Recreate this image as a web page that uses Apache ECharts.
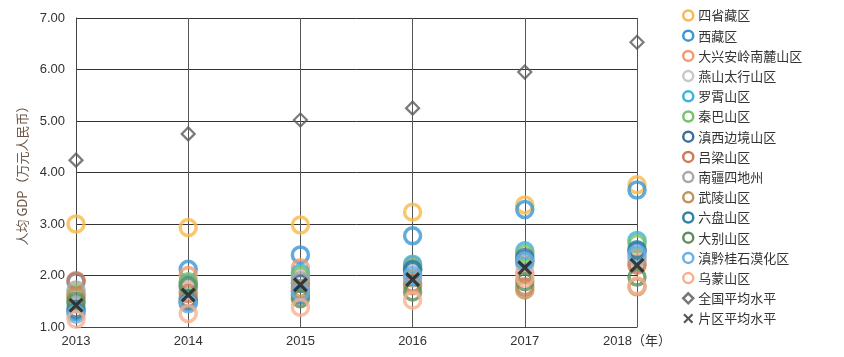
<!DOCTYPE html>
<html><head><meta charset="utf-8">
<script src="https://cdn.jsdelivr.net/npm/echarts@6/dist/echarts.min.js"></script>
<style>html,body{margin:0;padding:0;background:#fff}#c{width:844px;height:357px}</style>
</head><body><div id="c"></div>
<script>
var years = [2013, 2014, 2015, 2016, 2017, 2018];
var yTicks = [1, 2, 3, 4, 5, 6, 7];
var seriesNames = ['四省藏区','西藏区','大兴安岭南麓山区','燕山太行山区','罗霄山区','秦巴山区','滇西边境山区','吕梁山区','南疆四地州','武陵山区','六盘山区','大别山区','滇黔桂石漠化区','乌蒙山区','全国平均水平','片区平均水平'];
var sisheng   = [3.00, 2.93, 2.98, 3.23, 3.37, 3.76];
var xizang    = [1.88, 2.12, 2.40, 2.77, 3.28, 3.66];
var daxinganl = [1.62, 2.00, 2.15, 2.20, 2.05, 2.25];
var yanshan   = [1.55, 1.72, 1.95, 2.05, 2.20, 2.30];
var luoxiao   = [1.45, 1.85, 2.05, 2.22, 2.48, 2.68];
var qinba     = [1.65, 1.88, 2.00, 2.15, 2.42, 2.62];
var dianxi    = [1.35, 1.55, 1.85, 2.10, 2.35, 2.48];
var lvliang   = [1.90, 1.65, 1.70, 1.85, 1.78, 2.20];
var nanjiang  = [1.72, 1.78, 1.90, 1.95, 2.25, 2.35];
var wuling    = [1.58, 1.50, 1.75, 1.80, 1.72, 1.78];
var liupan    = [1.30, 1.48, 1.62, 2.12, 2.30, 2.50];
var dabie     = [1.50, 1.80, 1.55, 1.68, 1.88, 1.97];
var dianqiangui = [1.25, 1.45, 1.68, 2.00, 2.28, 2.42];
var wumeng    = [1.15, 1.26, 1.38, 1.52, 1.95, 1.80];
var national  = [4.24, 4.75, 5.02, 5.25, 5.95, 6.53];
var regional  = [1.42, 1.62, 1.82, 1.92, 2.15, 2.20];

var circleValues = [sisheng, xizang, daxinganl, yanshan, luoxiao, qinba, dianxi, lvliang, nanjiang, wuling, liupan, dabie, dianqiangui, wumeng];
var circleColors = ['#F9B94B','#3A97D3','#F49A6E','#C8C8C8','#3BB1E1','#7CC06A','#3D6F9E','#CD7A55','#A8A8A8','#C0945A','#2E84A8','#5E8E5A','#6CB0E2','#F8B08E'];

function pairs(vals){ return years.map(function(y,i){ return [y, vals[i]]; }); }

var series = circleValues.map(function(vals, k){
  return {
    name: seriesNames[k], type: 'scatter', symbol: 'circle', symbolSize: 16,
    data: pairs(vals),
    itemStyle: { color: 'rgba(255,255,255,0)', borderColor: circleColors[k], borderWidth: 3.5, opacity: 0.8 },
    emphasis: { disabled: true }
  };
});
series.push({
  name: seriesNames[14], type: 'scatter', symbol: 'diamond', symbolSize: 13,
  data: pairs(national),
  itemStyle: { color: 'rgba(255,255,255,0)', borderColor: '#5a5a5a', borderWidth: 2.2 }
});
var xPath = 'path://M0,1.5 L1.5,0 L5,3.5 L8.5,0 L10,1.5 L6.5,5 L10,8.5 L8.5,10 L5,6.5 L1.5,10 L0,8.5 L3.5,5 Z';
series.push({
  name: seriesNames[15], type: 'scatter', symbol: xPath, symbolSize: 15,
  data: pairs(regional),
  itemStyle: { color: '#2b2b2b', opacity: 0.9 }
});

var chart = echarts.init(document.getElementById('c'));
chart.setOption({
  animation: false,
  textStyle: { fontFamily: 'Liberation Sans, "Noto Sans CJK SC", sans-serif' },
  grid: { left: 76, right: 207, top: 18, bottom: 30 },
  legend: {
    orient: 'vertical', left: 677, top: 4, height: 352, itemWidth: 10, itemHeight: 10, itemGap: 7.2,
    textStyle: { fontSize: 13, color: '#333', fontFamily: '"Noto Sans CJK SC", sans-serif' },
    data: seriesNames.map(function(n, i){
      if (i === 15) return { name: n, icon: xPath, itemStyle: { color: '#555', opacity: 1 } };
      if (i === 14) return { name: n, icon: 'diamond', itemStyle: { color: '#fff', borderColor: '#555', borderWidth: 2.5 } };
      return { name: n, icon: 'circle', itemStyle: { color: '#fff', borderColor: circleColors[i], borderWidth: 2.5, opacity: 1 } };
    })
  },
  xAxis: {
    type: 'value', min: years[0], max: years[years.length-1], interval: 1,
    axisLine: { show: true, lineStyle: { color: '#444' } },
    axisTick: { show: false },
    splitLine: { show: true, lineStyle: { color: '#555', width: 1 } },
    axisLabel: { color: '#333', fontSize: 13, margin: 8,
      formatter: function(v){ return v === years[years.length-1] ? v + '（年）' : String(v); } }
  },
  yAxis: {
    type: 'value', min: yTicks[0], max: yTicks[yTicks.length-1], interval: 1,
    name: '人均 GDP（万元人民币）', nameLocation: 'middle', nameGap: 46,
    nameTextStyle: { color: '#6a5646', fontSize: 13, fontFamily: '"Noto Sans CJK SC", sans-serif' },
    axisLine: { show: true, lineStyle: { color: '#444' } },
    axisTick: { show: false },
    splitLine: { show: true, lineStyle: { color: '#333', width: 1 } },
    axisLabel: { color: '#333', fontSize: 13, margin: 11, formatter: function(v){ return v.toFixed(2); } }
  },
  series: series
});
</script>
</body></html>
